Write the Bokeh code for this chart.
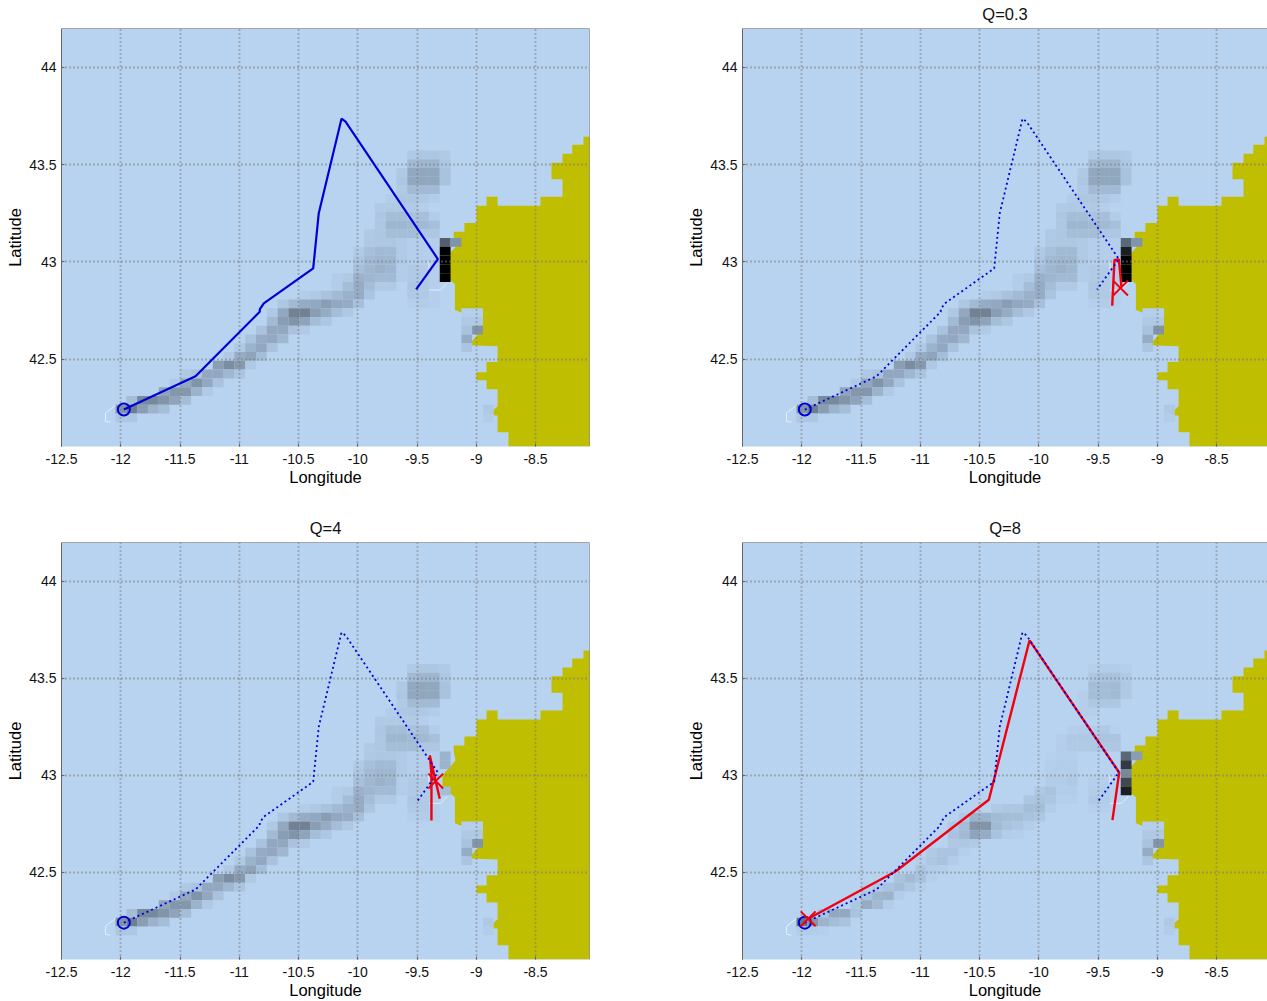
from bokeh.plotting import figure
from bokeh.layouts import column, row
from bokeh.models import FixedTicker, LinearColorMapper, Span, ColumnDataSource
from bokeh.embed import file_html
from bokeh.resources import INLINE

# ---- axes
lon_ticks = [-12.5, -12, -11.5, -11, -10.5, -10, -9.5, -9, -8.5]
lon_labels = ["-12.5", "-12", "-11.5", "-11", "-10.5", "-10", "-9.5", "-9", "-8.5"]
lat_ticks = [42.5, 43, 43.5, 44]
lat_labels = ["42.5", "43", "43.5", "44"]

# ---- coastline (lon / lat)
land_lon = [-8.0, -8.095, -8.095, -8.19, -8.19, -8.272, -8.272, -8.365, -8.365, -8.272, -8.272, -8.458, -8.458,
            -8.82, -8.82, -8.913, -8.913, -8.998, -8.998, -9.10, -9.10, -9.19, -9.19, -9.175, -9.285, -9.285,
            -9.18, -9.18, -9.09, -8.998, -8.99, -8.964, -8.99, -9.065, -8.82, -8.82, -8.913, -8.913, -8.998,
            -8.998, -8.913, -8.913, -8.82, -8.82, -8.905, -8.82, -8.82, -8.728, -8.728, -8.0]
land_lat = [43.643, 43.643, 43.602, 43.602, 43.556, 43.556, 43.51, 43.51, 43.425, 43.425, 43.334, 43.334, 43.288,
            43.288, 43.334, 43.334, 43.288, 43.288, 43.2, 43.2, 43.154, 43.154, 43.123, 43.076, 43.0, 42.937,
            42.886, 42.752, 42.73, 42.752, 42.664, 42.638, 42.623, 42.571, 42.566, 42.484, 42.484, 42.432, 42.432,
            42.391, 42.391, 42.344, 42.344, 42.257, 42.21, 42.21, 42.123, 42.123, 42.05, 42.05]

# ---- tracks
blue_lon = [-11.974, -11.369, -10.827, -10.827, -10.793, -10.376, -10.329, -10.137, -10.103, -9.324, -9.507]
blue_lat = [42.240, 42.411, 42.743, 42.755, 42.786, 42.966, 43.25, 43.736, 43.721, 43.014, 42.858]
red03_lon = [-9.380, -9.361, -9.324, -9.302]
red03_lat = [42.774, 43.009, 43.012, 42.872]
end03 = (-9.31, 42.865)
red4_lon = [-9.378, -9.378, -9.392, -9.344, -9.308, -9.342]
red4_lat = [42.767, 43.009, 43.102, 42.973, 42.879, 42.97]
end4 = (-9.342, 42.97)
red8_lon = [-9.378, -9.321, -10.078, -10.421, -11.209, -11.946]
red8_lat = [42.769, 43.014, 43.695, 42.874, 42.504, 42.26]
end8 = (-11.946, 42.26)
start_point = (-11.974, 42.240)

# ---- thin contours
contour_a_lon = [-12.044, -12.129, -12.129, -12.087]
contour_a_lat = [42.262, 42.221, 42.18, 42.175]
contour_b_lon = [-9.40, -9.302, -9.245]
contour_b_lat = [42.855, 42.855, 42.891]
contour_c_lon = [-9.40, -9.40]
contour_c_lat = [43.0, 42.963]

# ---- density grid
cell_lon0, cell_dlon = -12.044, 0.0912
cell_lat0, cell_dlat = 43.122, 0.0451

heat_base = [
    (-10, 27, [.04, .06, .06, .04]),
    (-9, 27, [.12, .14, .14, .06]),
    (-8, 26, [.05, .20, .21, .21, .08]),
    (-7, 26, [.06, .20, .21, .21, .08]),
    (-6, 26, [.04, .12, .12, .12]),
    (-5, 25, [.03, .06, .06, .05, .03]),
    (-4, 24, [.04, .04, .04, .04, .02]),
    (-3, 24, [.06, .10, .10, .08, .09, .03]),
    (-2, 24, [.06, .14, .14, .12, .12, .09]),
    (-1, 23, [.04, .06, .10, .10, .10, .06, .06]),
    (0, 23, [.05, .06, .06, .04, .02, .02, .02, .55, .30]),
    (1, 22, [.04, .09, .12, .12, .04, .02, .02, .02, 1.0]),
    (2, 22, [.06, .12, .14, .13, .04, .02, .02, .02, 1.0]),
    (3, 22, [.09, .13, .16, .14, .03, .04, .04, .02, 1.0]),
    (4, 20, [.03, .04, .16, .14, .12, .12, .03, .04, .04, .02, 1.0]),
    (5, 20, [.03, .10, .18, .10, .04, .04, 0, .06, .04, .02]),
    (6, 17, [.03, .05, .08, .12, .16, .18, .07, 0, 0, 0, .05, .04, .02]),
    (7, 15, [.06, .12, .18, .20, .25, .20, .18, .09, 0, 0, 0, 0, .02, .03, .02]),
    (8, 14, [.05, .20, .38, .38, .25, .18, .10, .05]),
    (9, 14, [.12, .25, .30, .22, .10, .06]),
    (10, 13, [.08, .20, .20, .08, .04]),
    (11, 12, [.08, .18, .20, .13]),
    (12, 11, [.05, .15, .20, .08]),
    (13, 10, [.04, .18, .22, .10]),
    (14, 9, [.25, .33, .27, .05]),
    (15, 6, [.05, .08, .20, .20, .13, .07]),
    (16, 5, [.04, .20, .30, .20, .08]),
    (17, 4, [.22, .28, .28, .15, .04]),
    (18, 1, [.10, .35, .35, .30, .22, .10]),
    (19, 0, [.30, .40, .25, .15, .10]),
    (20, 0, [.06, .06]),
    (8, 32, [.02, .02]),
    (9, 32, [.05, .05]),
    (10, 32, [.08, .30]),
    (11, 32, [.18]),
    (12, 32, [.07]),
    (19, 34, [.05]),
    (20, 34, [.03]),
]
heat_q03_changes = {(0, 30): .50, (1, 30): .85}
heat_q4_changes = {(0, 30): .15, (1, 30): .15, (2, 30): 0, (3, 30): 0, (4, 30): .10, (0, 31): 0}
heat_q8 = [
    (-10, 27, [.02, .03, .03, .02]),
    (-9, 27, [.06, .08, .08, .04]),
    (-8, 27, [.10, .10, .12, .05]),
    (-7, 26, [.02, .10, .10, .12, .05]),
    (-6, 26, [.02, .06, .06, .06]),
    (-5, 26, [.02, .02]),
    (-3, 25, [.02, .03, .03, .04, .01]),
    (-2, 24, [.02, .05, .05, .05, .07, .07]),
    (-1, 24, [.03, .04, .04, .05, .05, .06]),
    (0, 23, [.01, .02, .02, 0, 0, 0, 0, .50, .25]),
    (1, 23, [.02, .03, .03, 0, 0, 0, 0, .72]),
    (2, 23, [.02, .02, .03, 0, 0, 0, 0, .35]),
    (3, 23, [.03, .03, .04, 0, .02, .02, 0, .65]),
    (4, 22, [.05, .08, .03, .03, 0, .03, .03, 0, .85]),
    (5, 21, [.06, .08, .06, .02, .02, 0, .05, .03]),
    (6, 18, [.04, .06, .06, .10, .10, .03, 0, 0, 0, .02, .02]),
    (7, 15, [.04, .15, .15, .12, .10, .10, .08, .06]),
    (8, 14, [.05, .10, .30, .30, .12, .08, .06, .03]),
    (9, 14, [.08, .12, .22, .18, .08, .03, .02]),
    (10, 14, [.05, .06, .04]),
    (11, 12, [.04, .07, .07, .02]),
    (12, 11, [.02, .06, .08, .03]),
    (13, 11, [.07, .03, .02]),
    (14, 9, [.08, .12, .08, .02]),
    (15, 6, [.02, .05, .08, .10, .06, .02]),
    (16, 5, [.01, .08, .14, .15, .03]),
    (17, 5, [.06, .18, .12, .03]),
    (18, 2, [.08, .20, .20, .08]),
    (19, 0, [.45, .30, .15, .10, .08]),
    (20, 0, [.03, .03, .02]),
    (8, 32, [.02, .02]),
    (9, 32, [.05, .05]),
    (10, 32, [.08, .30]),
    (11, 32, [.18]),
    (12, 32, [.07]),
    (19, 34, [.05]),
    (20, 34, [.03]),
]

SEA = (184, 211, 240)
LAND = "#c0be00"
BLUE = "#0000d8"
RED = "#f00010"
GRID = "#7a7a7a"
FRAME = "#666666"
FONT = "Liberation Sans"

palette = ["#%02x%02x%02x" % tuple(int(c * (255 - i) / 255) for c in SEA) for i in range(256)]
mapper = LinearColorMapper(palette=palette, low=0, high=1)


def heat_source(rows, changes=None):
    cells = {}
    for r, start, vals in rows:
        for k, v in enumerate(vals):
            cells[(r, start + k)] = v
    cells.update(changes or {})
    d = dict(left=[], right=[], top=[], bottom=[], v=[])
    for (r, c), v in cells.items():
        if v > 0:
            d["left"].append(cell_lon0 + c * cell_dlon)
            d["right"].append(cell_lon0 + (c + 1) * cell_dlon)
            d["top"].append(cell_lat0 - r * cell_dlat)
            d["bottom"].append(cell_lat0 - (r + 1) * cell_dlat)
            d["v"].append(v)
    return ColumnDataSource(d)


def panel(title, heat, changes, red, end, lon_max, w, h, left, right, top, bottom, solid=False):
    p = figure(width=w, height=h, x_range=(-12.5, lon_max), y_range=(42.05, 44.2),
               output_backend="svg", toolbar_location=None, title=title,
               background_fill_color="#b8d3f0", border_fill_color="white",
               min_border_left=left, min_border_right=right, min_border_top=top, min_border_bottom=bottom)
    p.outline_line_color = None
    if title:
        p.title.align = "center"
        p.title.vertical_align = "top"
        p.title.text_font = FONT
        p.title.text_font_size = "16.5px"
        p.title.text_font_style = "normal"
        p.title.text_color = "#111111"
        p.title.standoff = top - 21

    p.patch(land_lon, land_lat, fill_color=LAND, line_color=None, level="image")
    p.quad(left="left", right="right", top="top", bottom="bottom", source=heat_source(heat, changes),
           fill_color={"field": "v", "transform": mapper}, line_color=None, level="image")
    for xs, ys in ((contour_a_lon, contour_a_lat), (contour_b_lon, contour_b_lat), (contour_c_lon, contour_c_lat)):
        p.line(xs, ys, line_color="#e6eff9", line_width=1, level="image")

    for ax, ticks, labels, name in ((p.xaxis[0], lon_ticks, lon_labels, "Longitude"),
                                    (p.yaxis[0], lat_ticks, lat_labels, "Latitude")):
        ax.ticker = FixedTicker(ticks=ticks)
        ax.major_label_overrides = dict(zip(ticks, labels))
        ax.major_label_text_font = FONT
        ax.major_label_text_font_size = "14px"
        ax.major_label_text_color = "#111111"
        ax.axis_label = name
        ax.axis_label_text_font = FONT
        ax.axis_label_text_font_size = "16.5px"
        ax.axis_label_text_font_style = "normal"
        ax.axis_label_text_color = "#000000"
        ax.major_tick_in = 3
        ax.major_tick_out = 0
        ax.major_tick_line_color = FRAME
        ax.minor_tick_line_color = None
        ax.major_label_standoff = 7
        ax.axis_label_standoff = 1
    p.xaxis[0].axis_line_color = None
    p.yaxis[0].axis_line_color = FRAME
    p.yaxis[0].major_label_orientation = "horizontal"
    p.yaxis[0].major_label_standoff = 5
    p.yaxis[0].axis_label_standoff = 2

    p.grid.level = "underlay"
    for g, t in ((p.xgrid[0], lon_ticks), (p.ygrid[0], lat_ticks)):
        g.ticker = FixedTicker(ticks=t)
        g.grid_line_color = GRID
        g.grid_line_width = 1.8
        g.grid_line_dash = "1 3"

    p.add_layout(Span(location=44.2, dimension="width", line_color=FRAME, line_width=1))
    p.add_layout(Span(location=lon_max, dimension="height", line_color=FRAME, line_width=1))

    if red:
        p.line(red[0], red[1], line_color=RED, line_width=2.4)
    if solid:
        p.line(blue_lon, blue_lat, line_color=BLUE, line_width=2.2)
    else:
        p.line(blue_lon, blue_lat, line_color=BLUE, line_width=1.8, line_dash="2 3")
    p.scatter([start_point[0]], [start_point[1]], marker="circle", size=12, fill_color=None,
              line_color=BLUE, line_width=2)
    if red:
        p.scatter([end[0]], [end[1]], marker="x", size=21, line_color=RED, line_width=2)
    return p


L_MAX = -12.5 + 528 / 118.5
R_MAX = -12.5 + 525 / 118.5
p1 = panel(None, heat_base, None, None, None, L_MAX, 678, 513, 61, 89, 28, 67, solid=True)
p2 = panel("Q=0.3", heat_base, heat_q03_changes, (red03_lon, red03_lat), end03, R_MAX, 589, 513, 64, 0, 28, 67)
p3 = panel("Q=4", heat_base, heat_q4_changes, (red4_lon, red4_lat), end4, L_MAX, 678, 488, 61, 89, 29, 41)
p4 = panel("Q=8", heat_q8, None, (red8_lon, red8_lat), end8, R_MAX, 589, 488, 64, 0, 29, 41)

page = column(row(p1, p2, spacing=0), row(p3, p4, spacing=0), spacing=0)
open("out.html", "w").write(file_html(page, INLINE))
